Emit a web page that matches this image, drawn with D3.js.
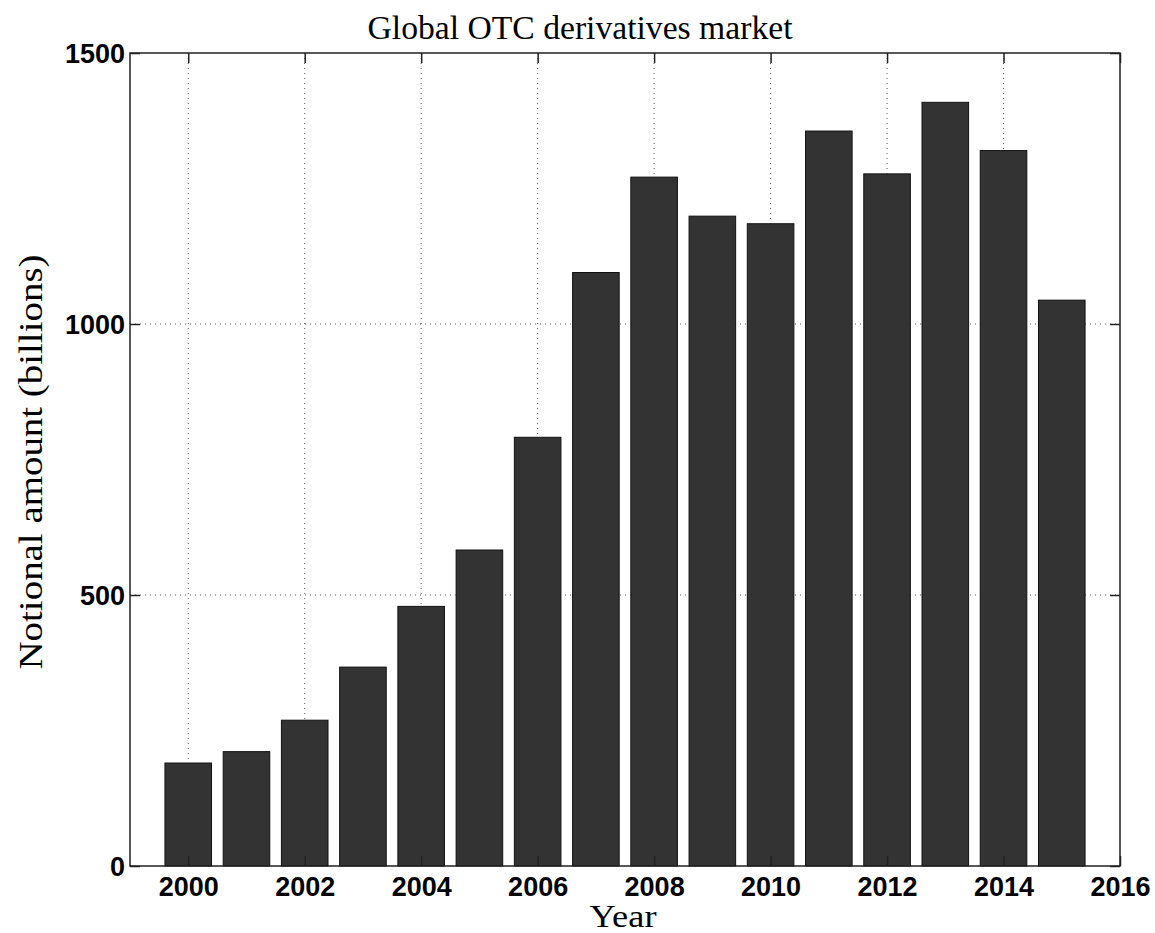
<!DOCTYPE html>
<html><head><meta charset="utf-8">
<script src="https://cdn.jsdelivr.net/npm/d3@7"></script>
<style>body{margin:0;background:#fff;} svg{display:block;}</style>
</head><body>
<svg id="chart" width="1155" height="933"></svg>
<script>
const years = [2000,2001,2002,2003,2004,2005,2006,2007,2008,2009,2010,2011,2012,2013,2014,2015];
const notional = [190,211,269,367,479,583,791,1095,1271,1199,1185,1356,1277,1409,1320,1044];
const xTicks = [2000,2002,2004,2006,2008,2010,2012,2014,2016];
const yTicks = [0,500,1000,1500];
const titleText = "Global OTC derivatives market";
const xLabel = "Year";
const yLabel = "Notional amount (billions)";

const svg = d3.select("#chart");
const L=130, R=1120, T=53, B=866;
const x = d3.scaleLinear().domain([1999,2016]).range([L,R]);
const y = d3.scaleLinear().domain([0,1500]).range([B,T]);
const barW = x(1999.8) - x(1999);

// grid
const g = svg.append("g");
g.selectAll("line.vg").data(xTicks.filter(d=>d<2016)).enter().append("line")
  .attr("x1",d=>x(d)).attr("x2",d=>x(d)).attr("y1",T).attr("y2",B)
  .attr("stroke","#555").attr("stroke-width",1).attr("stroke-dasharray","1,4");
g.selectAll("line.hg").data(yTicks.filter(d=>d>0&&d<1500)).enter().append("line")
  .attr("x1",L).attr("x2",R).attr("y1",d=>y(d)).attr("y2",d=>y(d))
  .attr("stroke","#555").attr("stroke-width",1).attr("stroke-dasharray","1,4");

// bars
svg.append("g").selectAll("rect").data(years).enter().append("rect")
  .attr("x",(d)=>x(d)-barW/2).attr("width",barW)
  .attr("y",(d,i)=>y(notional[i])).attr("height",(d,i)=>B-y(notional[i]))
  .attr("fill","#333333").attr("stroke","#111").attr("stroke-width",1);

// axes with inward ticks
const xAxB = d3.axisBottom(x).tickValues(xTicks).tickFormat(d3.format("d")).tickSizeInner(-10).tickSizeOuter(0).tickPadding(11);
const xAxT = d3.axisTop(x).tickValues(xTicks).tickFormat("").tickSizeInner(-10).tickSizeOuter(0);
const yAxL = d3.axisLeft(y).tickValues(yTicks).tickFormat(d3.format("d")).tickSizeInner(-10).tickSizeOuter(0).tickPadding(5);
const yAxR = d3.axisRight(y).tickValues(yTicks).tickFormat("").tickSizeInner(-10).tickSizeOuter(0);
function style(sel){
  sel.select(".domain").remove();
  sel.selectAll(".tick line").attr("stroke","#222").attr("stroke-width",1.5);
  sel.selectAll("text").attr("font-family","'Liberation Sans', Arial, sans-serif")
    .attr("font-weight","bold").attr("font-size","27px").attr("fill","#000");
}
svg.append("g").attr("transform",`translate(0,${B})`).call(xAxB).call(style);
svg.append("g").attr("transform",`translate(0,${T})`).call(xAxT).call(style);
svg.append("g").attr("transform",`translate(${L},0)`).call(yAxL).call(style)
  .selectAll("text").attr("dy","0.36em");
svg.append("g").attr("transform",`translate(${R},0)`).call(yAxR).call(style);

// box
svg.append("rect").attr("x",L).attr("y",T).attr("width",R-L).attr("height",B-T)
  .attr("fill","none").attr("stroke","#222").attr("stroke-width",1.5);

// labels
const serif = "'Liberation Serif','DejaVu Serif',serif";
svg.append("text").attr("x",580).attr("y",39).attr("text-anchor","middle")
  .attr("font-family",serif).attr("font-size","33px").attr("fill","#000")
  .attr("textLength",425).attr("lengthAdjust","spacingAndGlyphs").text(titleText);
svg.append("text").attr("x",623).attr("y",927).attr("text-anchor","middle")
  .attr("font-family",serif).attr("font-size","31px").attr("fill","#000")
  .attr("textLength",67).attr("lengthAdjust","spacingAndGlyphs").text(xLabel);
svg.append("text").attr("transform",`translate(42,462) rotate(-90)`).attr("text-anchor","middle")
  .attr("font-family",serif).attr("font-size","34px").attr("fill","#000")
  .attr("textLength",415).attr("lengthAdjust","spacingAndGlyphs").text(yLabel);
</script>
</body></html>
